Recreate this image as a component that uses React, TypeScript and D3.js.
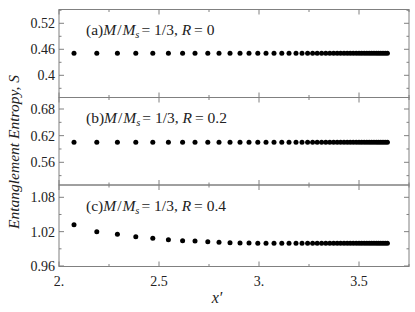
import React from "react";
import * as d3 from "d3";

const xValues = [
  2.075, 2.189, 2.292, 2.384, 2.469, 2.547, 2.618, 2.68, 2.744, 2.8, 2.855, 2.905, 2.95, 2.994, 3.035, 3.075,
  3.114, 3.15, 3.185, 3.215, 3.243, 3.268, 3.291, 3.313, 3.334, 3.354, 3.373, 3.391, 3.408, 3.425, 3.441,
  3.456, 3.471, 3.486, 3.5, 3.513, 3.526, 3.539, 3.551, 3.563, 3.575, 3.587, 3.598, 3.609, 3.62, 3.631, 3.642,
];

const seriesA = [
  0.451, 0.451, 0.451, 0.451, 0.451, 0.451, 0.451, 0.451, 0.451, 0.451, 0.451, 0.451, 0.451, 0.451, 0.451, 0.451,
  0.451, 0.451, 0.451, 0.451, 0.451, 0.451, 0.451, 0.451, 0.451, 0.451, 0.451, 0.451, 0.451, 0.451, 0.451,
  0.451, 0.451, 0.451, 0.451, 0.451, 0.451, 0.451, 0.451, 0.451, 0.451, 0.451, 0.451, 0.451, 0.451, 0.451, 0.451,
];

const seriesB = [
  0.605, 0.605, 0.605, 0.605, 0.605, 0.605, 0.605, 0.605, 0.605, 0.605, 0.605, 0.605, 0.605, 0.605, 0.605, 0.605,
  0.605, 0.605, 0.605, 0.605, 0.605, 0.605, 0.605, 0.605, 0.605, 0.605, 0.605, 0.605, 0.605, 0.605, 0.605,
  0.605, 0.605, 0.605, 0.605, 0.605, 0.605, 0.605, 0.605, 0.605, 0.605, 0.605, 0.605, 0.605, 0.605, 0.605, 0.605,
];

const seriesC = [
  1.032, 1.02, 1.0155, 1.011, 1.0085, 1.0058, 1.0042, 1.0037, 1.0025, 1.0015, 1.0008, 1.0003, 1.0002, 0.9998,
  0.9997, 0.9996, 0.9996, 0.9996, 0.9996, 0.9996, 0.9996, 0.9996, 0.9996, 0.9996, 0.9996, 0.9996, 0.9996,
  0.9996, 0.9996, 0.9996, 0.9996, 0.9996, 0.9996, 0.9996, 0.9996, 0.9996, 0.9996, 0.9996, 0.9996, 0.9996,
  0.9996, 0.9996, 0.9996, 0.9996, 0.9996, 0.9996, 0.9996,
];

const panelTags = ["(a)", "(b)", "(c)"];
const panelR = ["0", "0.2", "0.4"];
const yDomains: [number, number][] = [
  [0.3488, 0.5518],
  [0.5089, 0.7059],
  [0.9591, 1.1015],
];
const yMajorTicks = [
  [0.4, 0.46, 0.52],
  [0.56, 0.62, 0.68],
  [0.96, 1.02, 1.08],
];
const yTickLabels = [
  ["0.4", "0.46", "0.52"],
  ["0.56", "0.62", "0.68"],
  ["0.96", "1.02", "1.08"],
];
const yMinorTicks = [
  [0.37, 0.43, 0.49, 0.55],
  [0.53, 0.59, 0.65],
  [0.99, 1.05],
];
const xMajorTicks = [2, 2.5, 3, 3.5];
const xTickLabels = ["2.", "2.5", "3.", "3.5"];
const xMinorTicks = [2.25, 2.75, 3.25, 3.75];
const xDomain: [number, number] = [2, 3.75];

const W = 415;
const H = 312;
const left = 59;
const right = 409;
const panelEdges = [9.5, 97.5, 185, 266.5];
const frameColor = "#808080";
const font = "Liberation Serif, DejaVu Serif, serif";

export default function App() {
  const x = d3.scaleLinear().domain(xDomain).range([left, right]);
  const series = [seriesA, seriesB, seriesC];

  return (
    <svg
      width={W}
      height={H}
      style={{ position: "absolute", left: 0, top: 0, fontFamily: font }}
    >
      <rect x={0} y={0} width={W} height={H} fill="#fff" />
      {series.map((vals, i) => {
        const top = panelEdges[i];
        const bottom = panelEdges[i + 1];
        const y = d3.scaleLinear().domain(yDomains[i]).range([bottom, top]);
        const inRange = (v: number) => y(v) >= top - 0.1 && y(v) <= bottom + 0.1;
        return (
          <g key={i}>
            {yMajorTicks[i].map((t, k) => (
              <g key={"ym" + k}>
                <line x1={left} x2={left + 5} y1={y(t)} y2={y(t)} stroke={frameColor} strokeWidth={1} />
                <line x1={right} x2={right - 5} y1={y(t)} y2={y(t)} stroke={frameColor} strokeWidth={1} />
                <text x={left - 4} y={y(t)} dy="0.35em" textAnchor="end" fontSize={14} fill="#222" style={{ fontFamily: font }}>
                  {yTickLabels[i][k]}
                </text>
              </g>
            ))}
            {yMinorTicks[i].filter(inRange).map((t, k) => (
              <g key={"yn" + k}>
                <line x1={left} x2={left + 2.5} y1={y(t)} y2={y(t)} stroke={frameColor} strokeWidth={1} />
                <line x1={right} x2={right - 2.5} y1={y(t)} y2={y(t)} stroke={frameColor} strokeWidth={1} />
              </g>
            ))}
            {xMajorTicks.map((t, k) => (
              <g key={"xm" + k}>
                <line x1={x(t)} x2={x(t)} y1={top} y2={top + 5} stroke={frameColor} strokeWidth={1} />
                <line x1={x(t)} x2={x(t)} y1={bottom} y2={bottom - 5} stroke={frameColor} strokeWidth={1} />
              </g>
            ))}
            {xMinorTicks.map((t, k) => (
              <g key={"xn" + k}>
                <line x1={x(t)} x2={x(t)} y1={top} y2={top + 2.5} stroke={frameColor} strokeWidth={1} />
                <line x1={x(t)} x2={x(t)} y1={bottom} y2={bottom - 2.5} stroke={frameColor} strokeWidth={1} />
              </g>
            ))}
            <rect x={left} y={top} width={right - left} height={bottom - top} fill="none" stroke={frameColor} strokeWidth={1} />
            <text x={86} y={top + 25.5} fontSize={15.5} fill="#222" style={{ fontFamily: font }}>
              <tspan>{panelTags[i]}</tspan>
              <tspan fontStyle="italic">M</tspan>
              <tspan dx={1}>/</tspan>
              <tspan fontStyle="italic" dx={1}>M</tspan>
              <tspan fontStyle="italic" fontSize={10.5} dy={3}>s</tspan>
              <tspan dy={-3} dx={2}>= 1/3, </tspan>
              <tspan fontStyle="italic">R</tspan>
              <tspan dx={3}>= {panelR[i]}</tspan>
            </text>
            {vals.map((v, k) => (
              <circle key={k} cx={x(xValues[k])} cy={y(v)} r={2.5} fill="#000" />
            ))}
          </g>
        );
      })}
      {xMajorTicks.map((t, k) => (
        <text key={k} x={x(t)} y={286} textAnchor="middle" fontSize={14} fill="#222" style={{ fontFamily: font }}>
          {xTickLabels[k]}
        </text>
      ))}
      <text x={217} y={303} textAnchor="middle" fontSize={16} fontStyle="italic" fill="#222" style={{ fontFamily: font }}>
        x′
      </text>
      <text
        transform={`translate(19, 152) rotate(-90)`}
        textAnchor="middle"
        fontSize={15.5}
        fontStyle="italic"
        fill="#222"
        style={{ fontFamily: font }}
      >
        Entanglement Entropy, S
      </text>
    </svg>
  );
}
